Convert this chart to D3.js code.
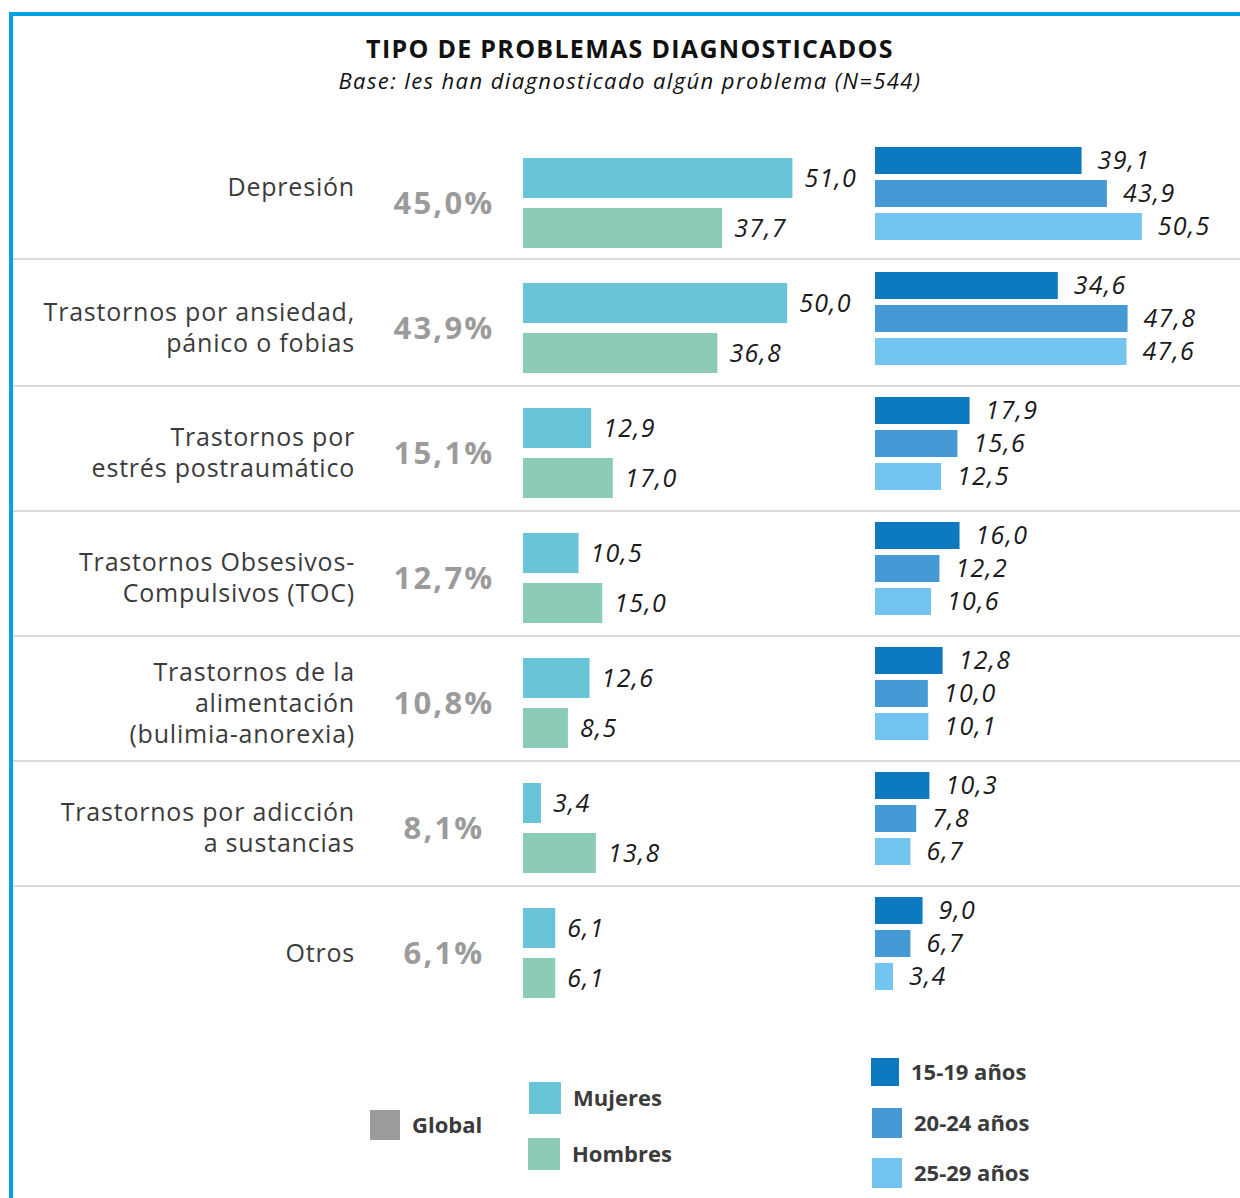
<!DOCTYPE html>
<html>
<head>
<meta charset="utf-8">
<script src="https://cdn.jsdelivr.net/npm/d3@7"></script>
<style>
  html, body { margin: 0; padding: 0; background: #fff; }
  svg { display: block; }
</style>
</head>
<body>
<svg id="chart" width="1240" height="1198"></svg>
<script>
// ---- Data ----
const categories = [
  "Depresión",
  "Trastornos por ansiedad, pánico o fobias",
  "Trastornos por estrés postraumático",
  "Trastornos Obsesivos-Compulsivos (TOC)",
  "Trastornos de la alimentación (bulimia-anorexia)",
  "Trastornos por adicción a sustancias",
  "Otros"
];
const categoryLines = [
  ["Depresión"],
  ["Trastornos por ansiedad,", "pánico o fobias"],
  ["Trastornos por ", "estrés postraumático"],
  ["Trastornos Obsesivos-", "Compulsivos (TOC)"],
  ["Trastornos de la ", "alimentación", "(bulimia-anorexia)"],
  ["Trastornos por adicción", "a sustancias"],
  ["Otros"]
];
const globalValues = [45.0, 43.9, 15.1, 12.7, 10.8, 8.1, 6.1];
const genderKeys = ["Mujeres", "Hombres"];
const mujeres = [51.0, 50.0, 12.9, 10.5, 12.6, 3.4, 6.1];
const hombres = [37.7, 36.8, 17.0, 15.0, 8.5, 13.8, 6.1];
const ageKeys = ["15-19 años", "20-24 años", "25-29 años"];
const age1519 = [39.1, 34.6, 17.9, 16.0, 12.8, 10.3, 9.0];
const age2024 = [43.9, 47.8, 15.6, 12.2, 10.0, 7.8, 6.7];
const age2529 = [50.5, 47.6, 12.5, 10.6, 10.1, 6.7, 3.4];

const colors = {
  "Global": "#9b9b9b",
  "Mujeres": "#68c5d8",
  "Hombres": "#8bcbb8",
  "15-19 años": "#0d79bf",
  "20-24 años": "#4599d5",
  "25-29 años": "#73c4ee"
};

const FONT = "'Open Sans', 'Noto Sans', sans-serif";
const fmt = v => d3.format(".1f")(v).replace(".", ",");

const svg = d3.select("#chart");

// Frame (blue border top + left)
svg.append("rect").attr("x", 9).attr("y", 12).attr("width", 1231).attr("height", 4).attr("fill", "#05a3e4");
svg.append("rect").attr("x", 9).attr("y", 12).attr("width", 4).attr("height", 1186).attr("fill", "#05a3e4");

// Title
svg.append("text").attr("x", 630).attr("y", 58).attr("text-anchor", "middle")
  .attr("font-family", FONT).attr("font-weight", 700).attr("font-size", 25).attr("letter-spacing", 1.3)
  .attr("fill", "#111")
  .text("TIPO DE PROBLEMAS DIAGNOSTICADOS");
svg.append("text").attr("x", 630).attr("y", 89).attr("text-anchor", "middle")
  .attr("font-family", FONT).attr("font-style", "italic").attr("font-size", 22).attr("letter-spacing", 1.4)
  .attr("fill", "#111")
  .text("Base: les han diagnosticado algún problema (N=544)");

// Scales
const rowScale = d3.scaleBand().domain(categories).range([133, 133 + 125 * categories.length]).padding(0);
const x = d3.scaleLinear().domain([0, 60]).range([0, 317]);
const genderX0 = 523, ageX0 = 875;
const genderBand = d3.scaleBand().domain(genderKeys).range([25, 115]).paddingInner(0.2);
const ageBand = d3.scaleBand().domain(ageKeys).range([14, 107]).paddingInner(6 / 33);

// Separators
categories.slice(0, -1).forEach((c, i) => {
  const yy = rowScale(c) + rowScale.bandwidth() + (i === 0 ? 1 : 3);
  svg.append("line").attr("x1", 13).attr("x2", 1240).attr("y1", yy).attr("y2", yy)
    .attr("stroke", "#cfcfcf").attr("stroke-width", 1.5);
});

const rows = categories.map((c, i) => ({
  cat: c, lines: categoryLines[i], global: globalValues[i],
  gender: [{ key: "Mujeres", v: mujeres[i] }, { key: "Hombres", v: hombres[i] }],
  age: [{ key: "15-19 años", v: age1519[i] }, { key: "20-24 años", v: age2024[i] }, { key: "25-29 años", v: age2529[i] }]
}));

const g = svg.selectAll("g.row").data(rows).join("g").attr("class", "row")
  .attr("transform", d => `translate(0,${rowScale(d.cat)})`);

// Category labels
g.each(function (d, i) {
  const sel = d3.select(this);
  const n = d.lines.length;
  const lh = 31;
  const cy = i === 0 ? 54 : 70;
  const t = sel.append("text").attr("text-anchor", "end").attr("font-family", FONT)
    .attr("font-size", 25).attr("letter-spacing", 0.8).attr("fill", "#3b3b3b");
  d.lines.forEach((ln, k) => {
    t.append("tspan").attr("x", 355).attr("y", cy + (k - (n - 1) / 2) * lh).attr("dy", "0.35em").text(ln.trim());
  });
});

// Global value
g.append("text").attr("x", 444).attr("y", 70).attr("dy", "0.35em").attr("text-anchor", "middle")
  .attr("font-family", FONT).attr("font-weight", 700).attr("font-size", 31).attr("letter-spacing", 2.2)
  .attr("fill", colors.Global)
  .text(d => fmt(d.global) + "%");

// Gender bars
const gb = g.selectAll("g.gbar").data(d => d.gender).join("g").attr("class", "gbar");
gb.append("rect").attr("x", genderX0).attr("y", d => genderBand(d.key))
  .attr("width", d => x(d.v)).attr("height", genderBand.bandwidth()).attr("fill", d => colors[d.key]);
gb.append("text").attr("x", d => genderX0 + x(d.v) + 12).attr("y", d => genderBand(d.key) + genderBand.bandwidth() / 2)
  .attr("dy", "0.35em").attr("font-family", FONT).attr("font-style", "italic").attr("font-size", 25)
  .attr("letter-spacing", 1.3).attr("fill", "#1a1a1a")
  .text(d => fmt(d.v));

// Age bars
const ab = g.selectAll("g.abar").data(d => d.age).join("g").attr("class", "abar");
ab.append("rect").attr("x", ageX0).attr("y", d => ageBand(d.key))
  .attr("width", d => x(d.v)).attr("height", ageBand.bandwidth()).attr("fill", d => colors[d.key]);
ab.append("text").attr("x", d => ageX0 + x(d.v) + 16).attr("y", d => ageBand(d.key) + ageBand.bandwidth() / 2)
  .attr("dy", "0.35em").attr("font-family", FONT).attr("font-style", "italic").attr("font-size", 25)
  .attr("letter-spacing", 1.3).attr("fill", "#1a1a1a")
  .text(d => fmt(d.v));

// Legend
const legendItems = [
  { key: "Global", x: 370, y: 1110, s: 30 },
  { key: "Mujeres", x: 529, y: 1082, s: 32 },
  { key: "Hombres", x: 528, y: 1138, s: 32 },
  { key: "15-19 años", x: 871, y: 1058, s: 28 },
  { key: "20-24 años", x: 872, y: 1108, s: 30 },
  { key: "25-29 años", x: 872, y: 1158, s: 30 }
];
const lg = svg.selectAll("g.legend").data(legendItems).join("g").attr("class", "legend");
lg.append("rect").attr("x", d => d.x).attr("y", d => d.y).attr("width", d => d.s).attr("height", d => d.s)
  .attr("fill", d => colors[d.key]);
lg.append("text").attr("x", d => d.x + d.s + 12).attr("y", d => d.y + d.s / 2).attr("dy", "0.35em")
  .attr("font-family", FONT).attr("font-weight", 700).attr("font-size", 22).attr("fill", "#3b3b3b")
  .text(d => d.key);
</script>
</body>
</html>
